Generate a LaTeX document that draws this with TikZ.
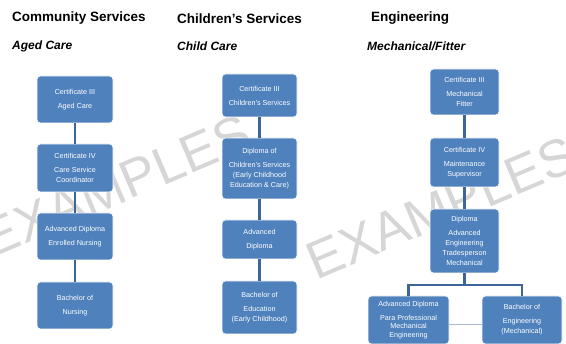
\documentclass[tikz,border=0pt]{standalone}
\usepackage{fontspec}
\setmainfont{Liberation Sans}
\usepackage{tikz}
\usetikzlibrary{shapes}
\usetikzlibrary{arrows}
\definecolor{boxblue}{HTML}{4F81BD}
\definecolor{lineblue}{HTML}{3D6698}
\definecolor{paleblue}{HTML}{A9BAD3}
\definecolor{markgray}{HTML}{D6D6D6}
\tikzset{
  course node/.style={rectangle,rounded corners=3.5pt,fill=boxblue,draw=white,line width=0.6pt,
    text=white,align=center,inner sep=1pt,font=\fontsize{7.2}{10}\selectfont},
  boxsize/.style 2 args={minimum width=#1,minimum height=#2},
  head node/.style={anchor=west,inner sep=0pt,font=\fontsize{13.5}{16}\selectfont\bfseries},
  sub node/.style={anchor=west,inner sep=0pt,font=\fontsize{12}{14}\selectfont\bfseries\itshape},
  mark node/.style={text=markgray,inner sep=0pt,rotate=23,font=\fontsize{53}{53}\selectfont}
}

\begin{document}
\begin{tikzpicture}[x=1pt,y=-1pt,
        link/.style={draw=lineblue,line width=2.2pt},
        side link/.style={draw=paleblue,line width=1pt}
        ]
    \useasboundingbox (0,0) rectangle (566,344);
    \node [mark node] (mark1) at (116,186) {EXAMPLES};
    \node [mark node] (mark2) at (441,208) {EXAMPLES};

    \node [head node] (h1) at (12,18.5) {Community Services};
    \node [sub node] (s1) at (12,46) {Aged Care};
    \node [head node] (h2) at (177,18.5) {Children’s Services};
    \node [sub node] (s2) at (177,46) {Child Care};
    \node [head node] (h3) at (371,18.5) {Engineering};
    \node [sub node] (s3) at (367,46) {Mechanical/Fitter};

    \node [course node,boxsize={76pt}{47pt}] (a1) at (75,99.5) {Certificate III\\[4pt]Aged Care};
    \node [course node,boxsize={76pt}{48pt}] (a2) at (75,168) {Certificate IV\\[4pt]Care Service\\Coordinator};
    \node [course node,boxsize={76pt}{47pt}] (a3) at (75,236.5) {Advanced Diploma\\[4pt]Enrolled Nursing};
    \node [course node,boxsize={76pt}{47pt}] (a4) at (75,305.5) {Bachelor of\\[4pt]Nursing};

    \node [course node,boxsize={75pt}{43pt}] (b1) at (259.5,95.5) {Certificate III\\[4pt]Children’s Services};
    \node [course node,boxsize={75pt}{61pt}] (b2) at (259.5,168.5) {Diploma of\\[4pt]Children’s Services\\(Early Childhood\\Education \& Care)};
    \node [course node,boxsize={75pt}{39pt}] (b3) at (259.5,239.5) {Advanced\\[4pt]Diploma};
    \node [course node,boxsize={75pt}{53pt}] (b4) at (259.5,307.5) {Bachelor of\\[4pt]Education\\(Early Childhood)};

    \node [course node,boxsize={69pt}{46pt}] (e1) at (464.5,92) {Certificate III\\[4pt]Mechanical\\Fitter};
    \node [course node,boxsize={69pt}{49pt}] (e2) at (464.5,162.5) {Certificate IV\\[4pt]Maintenance\\Supervisor};
    \node [course node,boxsize={69pt}{64pt}] (e3) at (464.5,241) {Diploma\\[4pt]Advanced\\Engineering\\Tradesperson\\Mechanical};
    \node [course node,boxsize={81pt}{48pt},font=\fontsize{7.2}{8.6}\selectfont] (e4) at (408.5,320) {Advanced Diploma\\[5pt]Para Professional\\Mechanical\\Engineering};
    \node [course node,boxsize={80pt}{48pt}] (e5) at (522,320) {Bachelor of\\[4pt]Engineering\\(Mechanical)};

    \draw [link] (a1) -- (a2);
    \draw [link] (a2) -- (a3);
    \draw [link] (a3) -- (a4);
    \draw [link] (b1) -- (b2);
    \draw [link] (b2) -- (b3);
    \draw [link] (b3) -- (b4);
    \draw [link] (e1) -- (e2);
    \draw [link] (e2) -- (e3);
    \draw [link] (e3.south) -- ++(0,12) -| (e4.north);
    \draw [link] (e3.south) -- ++(0,12) -| (e5.north);
    \draw [side link] ([yshift=-5pt]e4.east) -- ([yshift=-5pt]e5.west);
\end{tikzpicture}
\end{document}
